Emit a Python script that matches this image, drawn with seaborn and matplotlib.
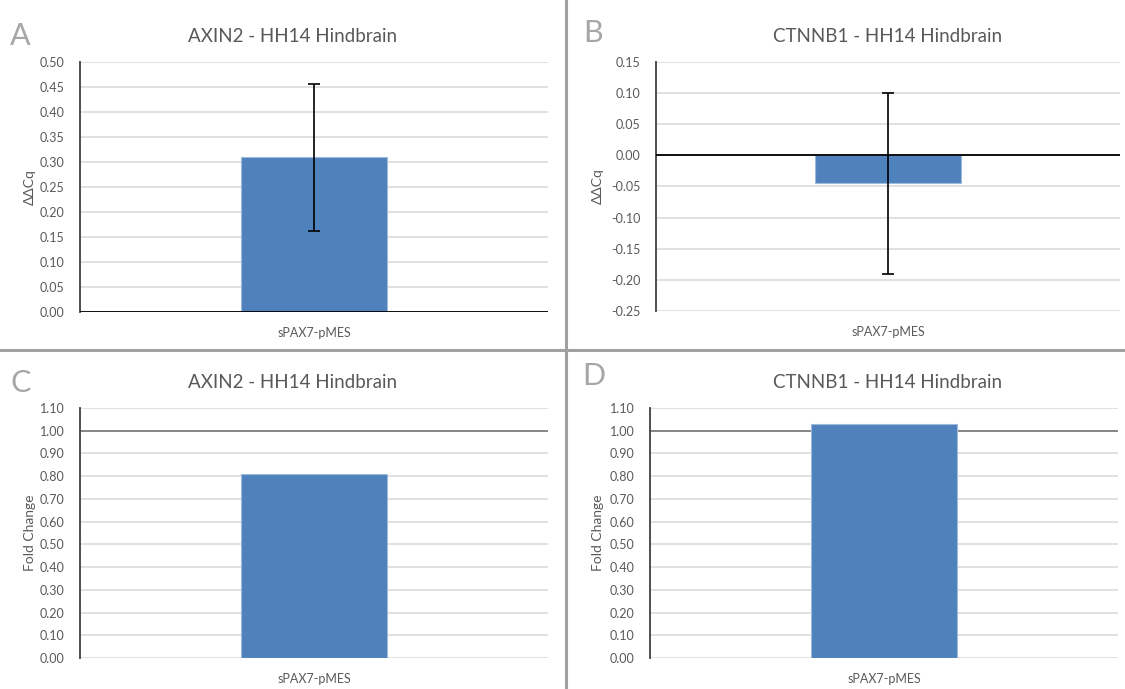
import matplotlib
matplotlib.use("Agg")
import matplotlib.pyplot as plt
import matplotlib.ticker as mticker
from matplotlib.lines import Line2D
import numpy as np
import pandas as pd
import seaborn as sns

# ---------------- data ----------------
genes = ["AXIN2", "CTNNB1"]
condition = ["sPAX7-pMES"]
ddcq = [0.31, -0.045]
ddcq_err = [0.147, 0.146]
fold_change = [0.81, 1.03]
panel_letters = ["A", "B", "C", "D"]
stage = "HH14 Hindbrain"

sns.set_theme(style="white")
plt.rcParams["font.family"] = ["Lato", "DejaVu Sans"]

W, H = 1125, 689
fig = plt.figure(figsize=(W / 100, H / 100), dpi=100)


def rect(left, right, top, bottom):
    return [left / W, 1 - bottom / H, (right - left) / W, (bottom - top) / H]


def fx(x):
    return x / W


def fy(y):
    return 1 - y / H


BAR = "#4F81BD"
GRID = "#D9D9D9"
TXT = "#595959"

axes_px = [
    (80, 548, 62, 312),
    (656, 1120, 62, 311),
    (80, 548, 408, 658),
    (650, 1118, 408, 658),
]
title_pos = [(293, 36), (888, 36), (293, 383), (888, 383)]
letter_pos = [(10, 36), (583, 33), (10, 383), (582, 376)]
ylab_x = [30, 598, 30, 598]

panels = [
    dict(val=ddcq[0], err=ddcq_err[0], gene=genes[0], ylab="ΔΔCq",
         lim=(0, 0.5), step=0.05, ref=0.0, refc="#000000", refz=5),
    dict(val=ddcq[1], err=ddcq_err[1], gene=genes[1], ylab="ΔΔCq",
         lim=(-0.25, 0.15), step=0.05, ref=0.0, refc="#000000", refz=5),
    dict(val=fold_change[0], err=None, gene=genes[0], ylab="Fold Change",
         lim=(0, 1.1), step=0.1, ref=1.0, refc="#7F7F7F", refz=2),
    dict(val=fold_change[1], err=None, gene=genes[1], ylab="Fold Change",
         lim=(0, 1.1), step=0.1, ref=1.0, refc="#7F7F7F", refz=2),
]


def fmt(v, pos):
    s = f"{v:.2f}"
    return "0.00" if s == "-0.00" else s


for i, p in enumerate(panels):
    l, r, t, b = axes_px[i]
    ax = fig.add_axes(rect(l, r, t, b))
    df = pd.DataFrame({"condition": condition, "value": [p["val"]]})
    sns.barplot(data=df, x="condition", y="value", ax=ax, color=BAR,
                saturation=1, width=0.314, edgecolor="#9DB9DC", linewidth=0.8,
                errorbar=None, zorder=3)
    if p["err"] is not None:
        ax.errorbar([0], [p["val"]], yerr=[p["err"]], fmt="none", ecolor="black",
                    elinewidth=1.2, capsize=4, capthick=1.2, zorder=4)
    lo, hi = p["lim"]
    ax.set_ylim(lo, hi)
    ax.set_xlim(-0.5, 0.5)
    ticks = np.round(np.arange(lo, hi + p["step"] / 2, p["step"]), 2)
    ax.set_yticks(ticks)
    ax.yaxis.set_major_formatter(mticker.FuncFormatter(fmt))
    ax.yaxis.grid(True, color=GRID, linewidth=1.1, zorder=0)
    ax.set_axisbelow(True)
    ax.axhline(p["ref"], color=p["refc"], linewidth=1.3, zorder=p["refz"])
    for s in ["top", "right", "bottom"]:
        ax.spines[s].set_visible(False)
    ax.spines["left"].set_color("#404040")
    ax.spines["left"].set_linewidth(1.3)
    ax.tick_params(axis="y", length=0, pad=11, labelsize=9, labelcolor=TXT)
    ax.tick_params(axis="x", length=0, pad=11, labelsize=9, labelcolor=TXT)
    ax.set_xlabel("")
    ax.set_ylabel("")
    fig.text(fx(ylab_x[i]), fy((t + b) / 2), p["ylab"], rotation=90,
             ha="center", va="center", fontsize=10, color=TXT)
    fig.text(fx(title_pos[i][0]), fy(title_pos[i][1]), f"{p['gene']} - {stage}",
             ha="center", va="center", fontsize=13.5, color=TXT)
    fig.text(fx(letter_pos[i][0]), fy(letter_pos[i][1]), panel_letters[i],
             ha="left", va="center", fontsize=22, color="#A6A6A6")

# panel separators
fig.add_artist(Line2D([fx(566), fx(566)], [0, 1], transform=fig.transFigure,
                      color="#A0A0A0", linewidth=2.2))
fig.add_artist(Line2D([0, 1], [fy(350), fy(350)], transform=fig.transFigure,
                      color="#A0A0A0", linewidth=2.2))

fig.savefig("out.png", dpi=100, facecolor="white")
